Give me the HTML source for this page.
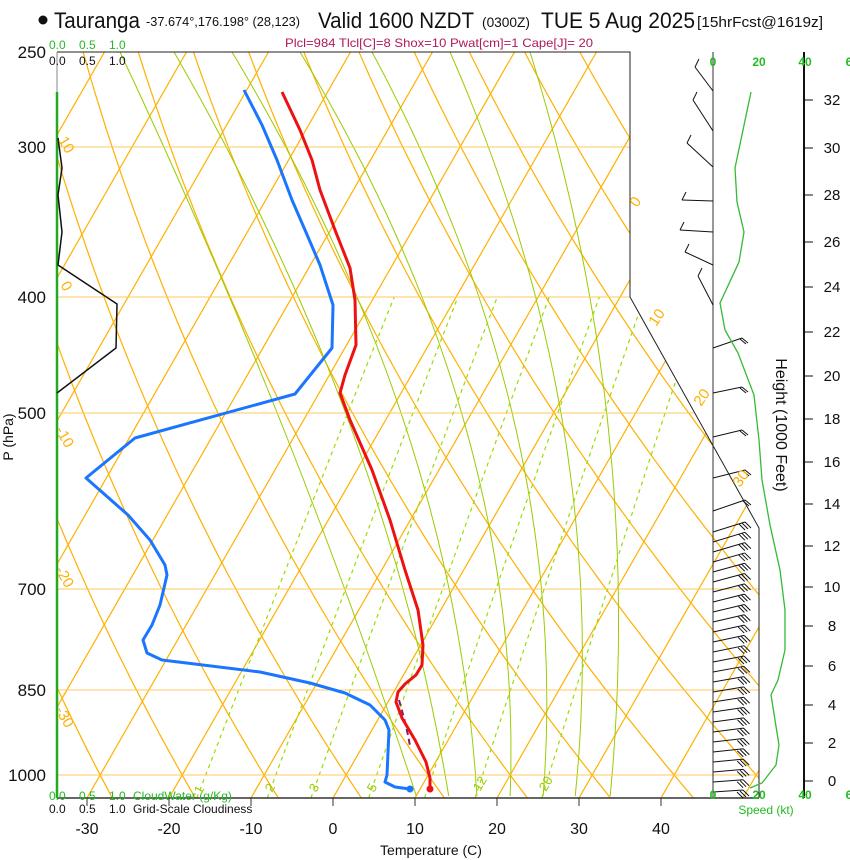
<!DOCTYPE html>
<html><head><meta charset="utf-8"><style>
body{margin:0;background:#fff;}
svg{display:block;font-family:"Liberation Sans",sans-serif;}
</style></head><body>
<svg id="s" width="850" height="860" viewBox="0 0 850 860" xmlns="http://www.w3.org/2000/svg">
<defs><clipPath id="cp"><polygon points="57,52 630,52 630,297 759,528 759,798 57,798"/></clipPath></defs>
<g id="grid" clip-path="url(#cp)" fill="none"></g>
<g stroke="#ffc860" stroke-width="1">
<line x1="57" y1="147" x2="630" y2="147"/><line x1="57" y1="297" x2="630" y2="297"/>
<line x1="57" y1="413" x2="695" y2="413"/><line x1="57" y1="589" x2="759" y2="589"/>
<line x1="57" y1="690" x2="759" y2="690"/><line x1="57" y1="775" x2="759" y2="775"/>
</g>
<polyline points="57,52 630,52 630,297 759,528 759,798" fill="none" stroke="#222" stroke-width="1"/>
<line x1="57" y1="798" x2="759" y2="798" stroke="#333" stroke-width="1.5"/>
<line x1="57" y1="52" x2="57" y2="798" stroke="#888" stroke-width="1"/>
<line x1="57" y1="92" x2="57" y2="798" stroke="#22aa22" stroke-width="2.5"/>
<g stroke="#333"><line x1="87" y1="798" x2="87" y2="806"/><line x1="169" y1="798" x2="169" y2="806"/><line x1="251" y1="798" x2="251" y2="806"/><line x1="333" y1="798" x2="333" y2="806"/><line x1="415" y1="798" x2="415" y2="806"/><line x1="497" y1="798" x2="497" y2="806"/><line x1="579" y1="798" x2="579" y2="806"/><line x1="661" y1="798" x2="661" y2="806"/></g>
<polyline points="58,138 62,168 58,195 62,232 58,265 117,304 116,348 57,393" fill="none" stroke="#111" stroke-width="1.5"/>
<polyline points="399,700 404,718 408,735 410,746" fill="none" stroke="#8a1a6a" stroke-width="2" stroke-dasharray="6,4"/>
<polyline points="282,92 300,130 312,160 320,190 335,230 350,268 355,300 356,345 345,375 340,393 350,420 372,470 390,520 405,570 418,610 423,645 422,665 416,675 405,684 398,692 396,702 402,718 415,740 426,762 430,778 430,788" fill="none" stroke="#ee1111" stroke-width="3" stroke-linejoin="round"/>
<circle cx="430" cy="789" r="3.5" fill="#ee1111"/>
<polyline points="244,90 262,125 277,160 292,200 305,230 320,265 333,305 332,348 295,394 135,438 86,478 128,515 150,540 165,565 167,575 160,605 152,625 143,640 147,653 162,660 260,672 310,683 345,693 370,705 385,720 389,730 387,775 385,782 395,787 410,789" fill="none" stroke="#1a75ff" stroke-width="3" stroke-linejoin="round"/>
<circle cx="410" cy="789" r="3.5" fill="#1a75ff"/>
<line x1="713" y1="52" x2="713" y2="798" stroke="#333" stroke-width="1"/>
<g id="barbs" stroke="#111" stroke-width="1" fill="none"></g>
<polyline points="751,92 735,168 737,202 744,232 739,262 720,303 725,330 738,353 754,395 759,440 762,480 770,525 780,570 785,610 785,650 778,680 771,695 775,720 779,745 776,765 762,783 750,788" fill="none" stroke="#33bb33" stroke-width="1.3"/>
<line x1="804" y1="52" x2="804" y2="798" stroke="#111" stroke-width="2"/>
<g id="hticks" stroke="#111"></g>
<g font-size="15" fill="#111" text-anchor="middle">
<text x="832" y="786">0</text><text x="832" y="748">2</text><text x="832" y="710">4</text><text x="832" y="671">6</text><text x="832" y="631">8</text><text x="832" y="592">10</text><text x="832" y="551">12</text><text x="832" y="509">14</text><text x="832" y="467">16</text><text x="832" y="424">18</text><text x="832" y="381">20</text><text x="832" y="337">22</text><text x="832" y="292">24</text><text x="832" y="247">26</text><text x="832" y="200">28</text><text x="832" y="153">30</text><text x="832" y="105">32</text>
</g>
<text x="0" y="0" font-size="16" fill="#111" text-anchor="middle" transform="translate(776,425) rotate(90)">Height (1000 Feet)</text>
<g font-size="12" font-weight="bold" fill="#22bb22" text-anchor="middle">
<text x="713" y="66">0</text><text x="759" y="66">20</text><text x="805" y="66">40</text><text x="849" y="66">6</text>
<text x="713" y="799">0</text><text x="759" y="799">20</text><text x="805" y="799">40</text><text x="849" y="799">6</text>
</g>
<text x="766" y="814" font-size="12" fill="#22bb22" text-anchor="middle">Speed (kt)</text>
<g font-size="17" fill="#111" text-anchor="end">
<text x="46" y="58">250</text><text x="46" y="153">300</text><text x="46" y="303">400</text><text x="46" y="419">500</text><text x="46" y="595">700</text><text x="46" y="696">850</text><text x="46" y="781">1000</text>
</g>
<text x="0" y="0" font-size="14" fill="#111" text-anchor="middle" transform="translate(13,437) rotate(-90)">P (hPa)</text>
<g font-size="16" fill="#111" text-anchor="middle">
<text x="87" y="834">-30</text><text x="169" y="834">-20</text><text x="251" y="834">-10</text><text x="333" y="834">0</text><text x="415" y="834">10</text><text x="497" y="834">20</text><text x="579" y="834">30</text><text x="661" y="834">40</text>
</g>
<text x="431" y="855" font-size="14" fill="#111" text-anchor="middle">Temperature (C)</text>
<g font-size="12" fill="#22bb22"><text x="49" y="49">0.0</text><text x="79" y="49">0.5</text><text x="109" y="49">1.0</text>
<text x="49" y="800">0.0</text><text x="79" y="800">0.5</text><text x="109" y="800">1.0</text><text x="133" y="800">CloudWater (g/Kg)</text></g>
<g font-size="12" fill="#111"><text x="49" y="65">0.0</text><text x="79" y="65">0.5</text><text x="109" y="65">1.0</text>
<text x="49" y="813">0.0</text><text x="79" y="813">0.5</text><text x="109" y="813">1.0</text><text x="133" y="813">Grid-Scale Cloudiness</text></g>
<g font-size="15" fill="#ffb000">
<text transform="translate(58,140) rotate(60)">10</text>
<text transform="translate(60,285) rotate(60)">0</text>
<text transform="translate(55,430) rotate(60)">-10</text>
<text transform="translate(55,570) rotate(60)">-20</text>
<text transform="translate(55,710) rotate(60)">-30</text>
<text transform="translate(637,208) rotate(-55)">0</text>
<text transform="translate(656,327) rotate(-55)">10</text>
<text transform="translate(701,407) rotate(-55)">20</text>
<text transform="translate(740,488) rotate(-55)">30</text>
</g>
<g font-size="13" fill="#99cc00">
<text transform="translate(201,795) rotate(-60)">1</text>
<text transform="translate(272,793) rotate(-60)">2</text>
<text transform="translate(316,793) rotate(-60)">3</text>
<text transform="translate(374,793) rotate(-60)">5</text>
<text transform="translate(480,792) rotate(-60)">12</text>
<text transform="translate(546,792) rotate(-60)">20</text>
</g>
<circle cx="43" cy="20" r="4.5" fill="#111"/>
<text x="54" y="28" font-size="22" fill="#111" textLength="86" lengthAdjust="spacingAndGlyphs">Tauranga</text>
<text x="146" y="26" font-size="13" fill="#111" textLength="154" lengthAdjust="spacingAndGlyphs">-37.674°,176.198° (28,123)</text>
<text x="318" y="28" font-size="22" fill="#111" textLength="156" lengthAdjust="spacingAndGlyphs">Valid 1600 NZDT</text>
<text x="482" y="27" font-size="14" fill="#111" textLength="48" lengthAdjust="spacingAndGlyphs">(0300Z)</text>
<text x="541" y="28" font-size="22" fill="#111" textLength="154" lengthAdjust="spacingAndGlyphs">TUE 5 Aug 2025</text>
<text x="697" y="27" font-size="15" fill="#111" textLength="126" lengthAdjust="spacingAndGlyphs">[15hrFcst@1619z]</text>
<text x="285" y="47" font-size="12" fill="#b0185a" textLength="308" lengthAdjust="spacingAndGlyphs">Plcl=984 Tlcl[C]=8 Shox=10 Pwat[cm]=1 Cape[J]= 20</text>
</svg>
<script>
(function(){
var NS="http://www.w3.org/2000/svg";
var g=document.getElementById('grid');
function Y(p){return 775+521.5*Math.log(p/1000);}
function X(T,y){return 333+8.2*T+0.573*(798-y);}
function pl(pts,stroke,w,dash){var e=document.createElementNS(NS,'polyline');e.setAttribute('points',pts.map(function(a){return a[0].toFixed(1)+','+a[1].toFixed(1)}).join(' '));e.setAttribute('stroke',stroke);e.setAttribute('stroke-width',w);if(dash)e.setAttribute('stroke-dasharray',dash);g.appendChild(e);}
var ps=[];for(var p=1050;p>=240;p-=10)ps.push(p);
for(var T=-160;T<=60;T+=10){pl([[X(T,798),798],[X(T,52),52]],'#ffb000',1.2);}
for(var th=-40;th<=200;th+=10){var a=[];ps.forEach(function(p){var t=(th+273.15)*Math.pow(p/1000,0.2857)-273.15;var y=Y(p);a.push([X(t,y),y]);});pl(a,'#ffb000',1.2);}
// moist adiabats traced: [x at y=52, x at y=425, x at y=798]
var ma=[[120,282,417],[174,350,449],[232,405,477],[300,465,510],[372,515,543],[450,563,575],[530,608,610]];
ma.forEach(function(m){var a=[];for(var y=52;y<=798;y+=8){var y0=52,y1=425,y2=798;
 var x=m[0]*(y-y1)*(y-y2)/((y0-y1)*(y0-y2))+m[1]*(y-y0)*(y-y2)/((y1-y0)*(y1-y2))+m[2]*(y-y0)*(y-y1)/((y2-y0)*(y2-y1));a.push([x,y]);}
 pl(a,'#99cc00',1);});
[1,2,3,5,8,12,20].forEach(function(w){var a=[];for(var p=1045;p>=400;p-=15){var e=w*p/(622+w);var l=Math.log(e/6.112);var td=243.5*l/(17.67-l);var y=Y(p);a.push([X(td,y),y]);}pl(a,'#99dd00',1.2,'4,4');});
var b=document.getElementById('barbs');
function ln(x1,y1,x2,y2){var e=document.createElementNS(NS,'line');e.setAttribute('x1',x1);e.setAttribute('y1',y1);e.setAttribute('x2',x2);e.setAttribute('y2',y2);b.appendChild(e);}
var up=[[91,695,67],[131,693,100],[167,687,143],[201,682,200],[232,680,230],[265,685,252],[305,698,276]];
up.forEach(function(u){ln(713,u[0],u[1],u[2]);ln(u[1],u[2],u[1]+4,u[2]-8);});
var lo=[[348,742,338],[393,742,387],[437,742,430],[478,745,470],[511,745,500]];
lo.forEach(function(u){ln(713,u[0],u[1],u[2]);ln(u[1],u[2],u[1]+6,u[2]+5);ln(u[1]-2,u[2]+1,u[1]+4,u[2]+6);});
for(var y=532;y<=792;y+=10){var f=(y-532)/260;var tx=745-2*f,ty=y-10+8*f;ln(713,y,tx,ty);ln(tx,ty,tx+6,ty+6);ln(tx-3,ty+1,tx+3,ty+7);ln(tx-6,ty+2,tx,ty+8);}
var ht=document.getElementById('hticks');
[781,743,705,666,626,587,546,504,462,419,376,332,287,242,195,148,100].forEach(function(y){var e=document.createElementNS(NS,'line');e.setAttribute('x1',804);e.setAttribute('x2',813);e.setAttribute('y1',y);e.setAttribute('y2',y);ht.appendChild(e);});
})();
</script>
</body></html>
